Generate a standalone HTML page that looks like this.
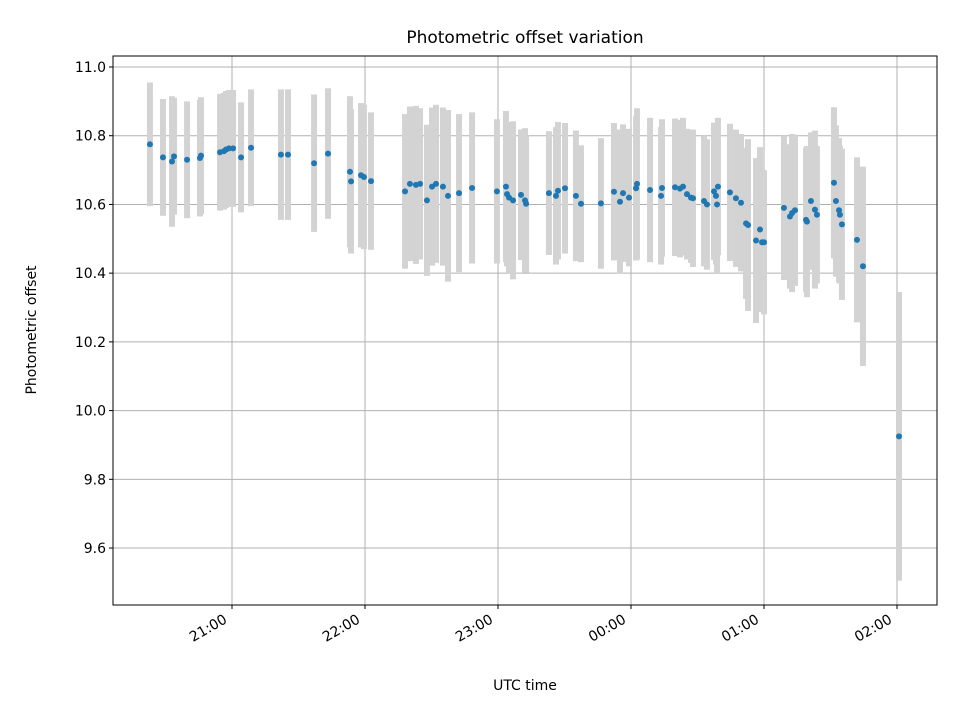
<!DOCTYPE html>
<html><head><meta charset="utf-8"><style>
body{margin:0;background:#fff;font-family:"Liberation Sans","DejaVu Sans",sans-serif}
svg text{font-family:"DejaVu Sans","Liberation Sans",sans-serif;fill:#000}
</style></head><body>
<svg id="chart" width="960" height="720" xmlns="http://www.w3.org/2000/svg">
<rect width="960" height="720" fill="#fff"/>
<g id="grid"></g><g id="bars"></g><g id="pts"></g><g id="axes"></g>
</svg>
<script>
// hours after 20:00 UTC
const times=[0.383,0.481,0.549,0.564,0.662,0.759,0.767,0.910,0.940,0.955,0.977,1.008,1.068,1.143,1.368,1.421,1.617,1.722,1.887,1.895,1.970,1.992,2.045,2.301,2.338,2.383,2.414,2.466,2.504,2.534,2.586,2.624,2.707,2.805,2.992,3.060,3.068,3.083,3.113,3.173,3.203,3.211,3.383,3.436,3.451,3.504,3.586,3.624,3.774,3.872,3.917,3.940,3.985,4.038,4.045,4.143,4.226,4.233,4.331,4.368,4.391,4.421,4.451,4.466,4.549,4.571,4.624,4.639,4.654,4.647,4.744,4.789,4.827,4.865,4.880,4.940,4.970,4.985,5.000,5.150,5.195,5.211,5.233,5.316,5.323,5.353,5.383,5.398,5.526,5.541,5.564,5.571,5.586,5.699,5.744,6.015];
const offsets=[10.775,10.737,10.725,10.740,10.730,10.735,10.742,10.752,10.755,10.760,10.763,10.763,10.737,10.765,10.745,10.745,10.720,10.748,10.695,10.667,10.685,10.680,10.668,10.638,10.660,10.657,10.660,10.612,10.652,10.660,10.652,10.625,10.633,10.648,10.638,10.652,10.630,10.620,10.612,10.628,10.612,10.602,10.633,10.625,10.640,10.647,10.625,10.602,10.603,10.637,10.608,10.633,10.620,10.647,10.660,10.642,10.625,10.648,10.650,10.646,10.652,10.630,10.620,10.618,10.610,10.600,10.638,10.625,10.652,10.600,10.635,10.618,10.605,10.545,10.540,10.495,10.527,10.490,10.490,10.590,10.565,10.575,10.583,10.555,10.550,10.610,10.585,10.570,10.663,10.610,10.583,10.570,10.542,10.497,10.420,9.925];
const errors=[0.18,0.17,0.19,0.17,0.17,0.17,0.17,0.17,0.17,0.17,0.17,0.17,0.16,0.17,0.19,0.19,0.20,0.19,0.22,0.21,0.21,0.21,0.20,0.225,0.225,0.23,0.22,0.22,0.23,0.23,0.23,0.25,0.23,0.22,0.21,0.22,0.21,0.22,0.23,0.19,0.21,0.20,0.18,0.20,0.20,0.19,0.19,0.17,0.19,0.20,0.21,0.20,0.20,0.21,0.22,0.21,0.20,0.20,0.20,0.20,0.20,0.19,0.19,0.20,0.19,0.19,0.20,0.20,0.20,0.20,0.20,0.20,0.20,0.22,0.25,0.24,0.24,0.20,0.21,0.21,0.21,0.23,0.22,0.21,0.22,0.20,0.23,0.20,0.22,0.22,0.21,0.20,0.22,0.24,0.29,0.42];
const yTicks=[9.6,9.8,10.0,10.2,10.4,10.6,10.8,11.0];
const xTickHours=[1,2,3,4,5,6];
const xTickLabels=["21:00","22:00","23:00","00:00","01:00","02:00"];
const L=113,R=937,T=56,B=605;
const xs=h=>99+h*133;
const ys=v=>67+(11.0-v)*343.6;
const NS="http://www.w3.org/2000/svg";
function mk(tag,attrs,parent,txt){const e=document.createElementNS(NS,tag);for(const k in attrs)e.setAttribute(k,attrs[k]);if(txt!==undefined)e.textContent=txt;document.getElementById(parent).appendChild(e);return e;}
yTicks.forEach(v=>{
  const y=ys(v);
  const g=mk('line',{x1:L,x2:R,y1:y,y2:y,stroke:'#b0b0b0','stroke-width':1},'grid');
  
  
  mk('line',{x1:L-4,x2:L,y1:y,y2:y,stroke:'#000'},'axes');
  const t=mk('text',{x:L-7,y:y+5,'text-anchor':'end','font-size':14},'axes',v.toFixed(1));
  
  
});
xTickHours.forEach((h,i)=>{
  const x=xs(h);
  const g=mk('line',{x1:x,x2:x,y1:T,y2:B,stroke:'#b0b0b0','stroke-width':1},'grid');
  
  
  mk('line',{x1:x,x2:x,y1:B,y2:B+4,stroke:'#000'},'axes');
  const tx=x-4, ty=B+17;
  const t=mk('text',{x:tx,y:ty,'text-anchor':'end','font-size':14,transform:`rotate(-30 ${tx} ${ty})`},'axes',xTickLabels[i]);
  
  
});
times.forEach((h,i)=>{
  const x=xs(h);
  const b=mk('rect',{x:x-3,y:ys(offsets[i]+errors[i]),width:6,height:ys(offsets[i]-errors[i])-ys(offsets[i]+errors[i]),fill:'#d3d3d3'},'bars');
  
  
});
times.forEach((h,i)=>{
  const p=mk('circle',{cx:xs(h),cy:ys(offsets[i]),r:3,fill:'#1f77b4'},'pts');
  
  
});
const f=mk('rect',{x:L,y:T,width:R-L,height:B-T,fill:'none',stroke:'#000','stroke-width':1},'axes');


const tt=mk('text',{x:(L+R)/2,y:43,'text-anchor':'middle','font-size':17},'axes','Photometric offset variation');


const xl=mk('text',{x:(L+R)/2,y:690,'text-anchor':'middle','font-size':14},'axes','UTC time');


const yl=mk('text',{x:36,y:330,'text-anchor':'middle','font-size':14,transform:'rotate(-90 36 330)'},'axes','Photometric offset');


</script>
</body></html>
